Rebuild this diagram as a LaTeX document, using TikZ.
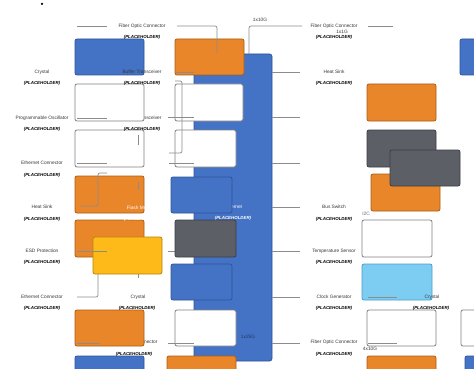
\documentclass[tikz,border=0pt]{standalone}
\usepackage{fontspec}
\setmainfont{Liberation Sans}
\usetikzlibrary{fit}
\definecolor{cblue}{HTML}{4472C4}
\definecolor{cblueD}{HTML}{2F5597}
\definecolor{corange}{HTML}{E9862A}
\definecolor{corangeD}{HTML}{A85F15}
\definecolor{cgrey}{HTML}{5C5F66}
\definecolor{cgreyD}{HTML}{3B3D42}
\definecolor{cyellow}{HTML}{FDBA19}
\definecolor{cyellowD}{HTML}{B7860B}
\definecolor{clight}{HTML}{7DCDF2}
\definecolor{clightD}{HTML}{4A9CC5}
\definecolor{cwhiteD}{HTML}{808080}
\definecolor{cline}{HTML}{8C8C8C}
\definecolor{ctext}{HTML}{383838}
\definecolor{cnavy}{HTML}{1F3864}
\definecolor{ci2c}{HTML}{5A6A8A}
\begin{document}
\begin{tikzpicture}[x=1pt,y=-1pt,
  box/.style={draw, rounded corners=2pt, line width=0.8pt, inner sep=0pt},
  bluebox/.style={box, fill=cblue, draw=cblueD},
  orangebox/.style={box, fill=corange, draw=corangeD},
  greybox/.style={box, fill=cgrey, draw=cgreyD},
  yellowbox/.style={box, fill=cyellow, draw=cyellowD},
  lightbox/.style={box, fill=clight, draw=clightD},
  whitebox/.style={box, fill=white, draw=cwhiteD},
  conn/.style={draw=cline, line width=0.7pt, rounded corners=2pt},
  lbl/.style={font=\fontsize{4.8}{5.5}\selectfont, text=ctext, inner sep=0pt},
  ph/.style={font=\fontsize{4.4}{5}\selectfont\bfseries\itshape, text=black, inner sep=0pt},
]
\useasboundingbox (0,0) rectangle (474,369);
\clip (0,0) rectangle (474,369);
\fill[white] (0,0) rectangle (474,369);

\node[circle, fill=black, inner sep=0pt, minimum size=2.5pt] (dot) at (42,4) {};

% big central block
\node[bluebox, rounded corners=2.5pt, fit={(194,54) (272,361)}] (big) {};

% labels hidden partly behind boxes
\node[lbl] (tBT2) at (142,118) {Buffer Transceiver};
\node[lbl] (tFO7) at (134,342) {Fiber Optic Connector};
\node[lbl, text=white] (tEth) at (233,207) {Ethernet};
\node[ph, text=white] (tEthP) at (233,218) {(PLACEHOLDER)};

% connector under grey box
\coordinate (u1) at (168,251);
\draw[conn] (u1) -- (big.west |- u1);

% left column boxes
\node[bluebox, fit={(75,39) (144,75)}] (L1) {};
\node[whitebox, fit={(75,84) (144,121)}] (L2) {};
\node[whitebox, fit={(75,130) (144,167)}] (L3) {};
\node[orangebox, fit={(75,176) (144,213)}] (L4) {};
\node[orangebox, fit={(75,220) (144,257)}] (L5) {};
\node[yellowbox, fit={(93,237) (162,274)}] (Y) {};
\node[orangebox, fit={(75,310) (144,346)}] (L7) {};
\node[bluebox, fit={(75,356) (144,385)}] (L8) {};

% middle column boxes
\node[orangebox, fit={(175,39) (244,75)}] (M1) {};
\node[whitebox, fit={(175,84) (243,121)}] (M2) {};
\node[whitebox, fit={(175,130) (236,167)}] (M3) {};
\node[bluebox, fit={(171,177) (232,213)}] (M4) {};
\node[greybox, fit={(175,220) (236,257)}] (M5) {};
\node[bluebox, fit={(171,264) (232,300)}] (M6) {};
\node[whitebox, fit={(175,310) (236,346)}] (M7) {};
\node[orangebox, fit={(167,356) (236,385)}] (M8) {};

% right column boxes
\node[orangebox, fit={(367,84) (436,121)}] (R2) {};
\node[greybox, fit={(367,130) (436,167)}] (R3) {};
\node[orangebox, fit={(371,174) (440,211)}] (R4a) {};
\node[greybox, fit={(390,150) (460,186)}] (R4b) {};
\node[whitebox, fit={(362,220) (432,257)}] (R5) {};
\node[lightbox, fit={(362,264) (432,300)}] (R6) {};
\node[whitebox, fit={(367,310) (436,346)}] (R7) {};
\node[orangebox, fit={(367,356) (436,385)}] (R8) {};

% far right boxes
\node[bluebox, fit={(460,39) (530,75)}] (F1) {};
\node[whitebox, fit={(461,310) (530,346)}] (F7) {};
\node[bluebox, fit={(465,356) (530,385)}] (F8) {};

% connectors
\coordinate (a1) at (77,26);   \coordinate (a2) at (107,26);
\draw[conn] (a1) -- (a2);
\coordinate (b1) at (177,26);  \coordinate (b2) at (217,53);
\draw[conn] (b1) -| (b2);
\coordinate (c1) at (249,54);  \coordinate (c2) at (302,26);
\draw[conn] (c1) |- (c2);
\coordinate (d1) at (368,26);  \coordinate (d2) at (393,26);
\draw[conn] (d1) -- (d2);
\foreach \yy/\nm in {72/r1,117/r2,163/r3,207/r4,251/r5,297/r6,343/r7}{
  \coordinate (\nm) at (300,\yy);
  \draw[conn] (big.east |- \nm) -- (\nm);
}
\coordinate (e1) at (176,72);
\draw[conn] (e1) -- (big.west |- e1);
\coordinate (f1) at (175,81); \coordinate (f2) at (182,81);
\coordinate (f3) at (182,153); \coordinate (f4) at (169,153);
\draw[conn] (f1) -- (f2) -- (f3) -- (f4);
\coordinate (g1) at (168,117);
\draw[conn] (g1) -- (big.west |- g1);
\coordinate (g2) at (169,163);
\draw[conn] (g2) -- (big.west |- g2);
\coordinate (g3) at (168,343);
\draw[conn] (g3) -- (big.west |- g3);
\coordinate (h1) at (77,118); \coordinate (h2) at (107,118);
\draw[conn] (h1) -- (h2);
\coordinate (h3) at (138,135); \coordinate (h4) at (138,145);
\draw[conn] (h3) -- (h4);
\coordinate (h5) at (77,163); \coordinate (h6) at (107,163);
\draw[conn] (h5) -- (h6);
\coordinate (k1) at (107,173); \coordinate (k2) at (98,173);
\coordinate (k3) at (98,206); \coordinate (k4) at (80,206);
\draw[conn] (k1) -- (k2) -- (k3) -- (k4);
\coordinate (h7) at (138,182); \coordinate (h8) at (138,190);
\draw[conn] (h7) -- (h8);
\coordinate (h9) at (77,251); \coordinate (h10) at (107,251);
\draw[conn] (h9) -- (h10);
\coordinate (h11) at (138,278);
\draw[conn] (Y.south -| h11) -- (h11);
\coordinate (m1) at (98,274); \coordinate (m2) at (77,297);
\draw[conn] (m1) |- (m2);
\coordinate (n1) at (77,343); \coordinate (n2) at (100,343);
\draw[conn] (n1) -- (n2);
\coordinate (p1) at (368,297); \coordinate (p2) at (397,297);
\draw[conn] (p1) -- (p2);
\coordinate (p3) at (368,343); \coordinate (p4) at (397,343);
\draw[conn] (p3) -- (p4);

% labels, left column
\node[lbl] (t1) at (42,72) {Crystal};
\node[ph] (t1p) at (42,83) {(PLACEHOLDER)};
\node[lbl] (t2) at (42,118) {Programmable Oscillator};
\node[ph] (t2p) at (42,129) {(PLACEHOLDER)};
\node[lbl] (t3) at (42,163) {Ethernet Connector};
\node[ph] (t3p) at (42,175) {(PLACEHOLDER)};
\node[lbl] (t4) at (42,207) {Heat Sink};
\node[ph] (t4p) at (42,219) {(PLACEHOLDER)};
\node[lbl] (t5) at (42,251) {ESD Protection};
\node[ph] (t5p) at (42,262) {(PLACEHOLDER)};
\node[lbl] (t6) at (42,297) {Ethernet Connector};
\node[ph] (t6p) at (42,308) {(PLACEHOLDER)};

% labels, second column
\node[lbl] (s1) at (142,26) {Fiber Optic Connector};
\node[ph] (s1p) at (142,37) {(PLACEHOLDER)};
\node[lbl] (s2) at (142,72) {Buffer Transceiver};
\node[ph] (s2p) at (142,83) {(PLACEHOLDER)};
\node[ph] (s3p) at (142,129) {(PLACEHOLDER)};
\node[lbl, text=white] (s4) at (142,208) {Flash Memory};
\node[ph, text=white] (s4p) at (142,219) {(PLACEHOLDER)};
\node[lbl] (s6) at (138,297) {Crystal};
\node[ph] (s6p) at (137,308) {(PLACEHOLDER)};
\node[ph] (s7p) at (134,354) {(PLACEHOLDER)};

% labels, right columns
\node[lbl] (q1) at (334,26) {Fiber Optic Connector};
\node[lbl] (q1b) at (342,32) {1x1G};
\node[ph] (q1p) at (334,37) {(PLACEHOLDER)};
\node[lbl] (q2) at (334,72) {Heat Sink};
\node[ph] (q2p) at (334,83) {(PLACEHOLDER)};
\node[lbl] (q4) at (334,207) {Bus Switch};
\node[ph] (q4p) at (334,219) {(PLACEHOLDER)};
\node[lbl, text=ci2c] (i2c) at (366,214) {I2C};
\node[lbl] (q5) at (334,251) {Temperature Sensor};
\node[ph] (q5p) at (334,262) {(PLACEHOLDER)};
\node[lbl] (q6) at (334,297) {Clock Generator};
\node[ph] (q6p) at (334,308) {(PLACEHOLDER)};
\node[lbl] (q7) at (334,342) {Fiber Optic Connector};
\node[ph] (q7p) at (334,354) {(PLACEHOLDER)};
\node[lbl] (x6) at (432,297) {Crystal};
\node[ph] (x6p) at (431,308) {(PLACEHOLDER)};

% bus labels
\node[lbl] (b10) at (260,20) {1x10G};
\node[lbl, text=cnavy] (b25) at (248,337) {1x25G};
\node[lbl] (b40) at (370,349) {4x10G};
\end{tikzpicture}
\end{document}
